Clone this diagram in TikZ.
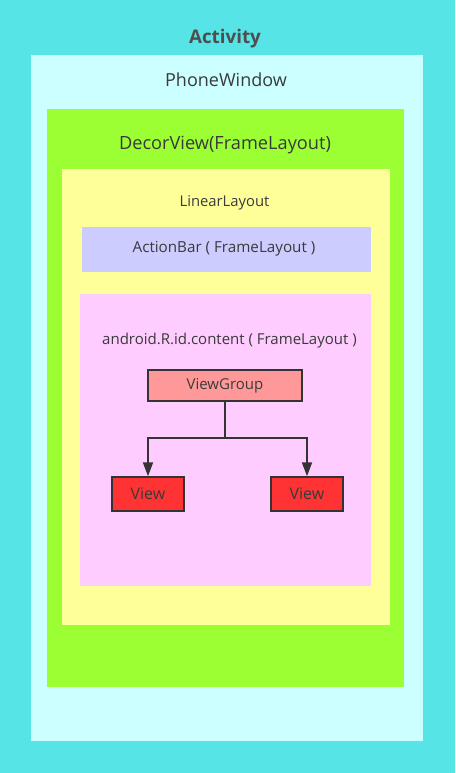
\documentclass[tikz,border=0pt]{standalone}
\usepackage{fontspec}
\setmainfont{Open Sans}
\usetikzlibrary{arrows.meta}
\definecolor{bgcyan}{HTML}{56E4E7}
\definecolor{phonec}{HTML}{CCFFFF}
\definecolor{decorc}{HTML}{9CFF33}
\definecolor{linc}{HTML}{FFFF99}
\definecolor{actc}{HTML}{CCCCFF}
\definecolor{contc}{HTML}{FFCCFF}
\definecolor{vgc}{HTML}{FF9999}
\definecolor{viewc}{HTML}{FF3333}
\definecolor{txtc}{HTML}{3A3A3A}
\definecolor{linec}{HTML}{333333}
\tikzset{
  lbl/.style={text=txtc, inner sep=0pt},
  bx/.style={draw=linec, line width=1.5pt, inner sep=0pt, text=txtc},
  conn/.style={draw=linec, line width=2pt, -{Triangle[width=10pt,length=14pt]}}
}
\begin{document}
\begin{tikzpicture}[x=1pt,y=-1pt]
\useasboundingbox (0,0) rectangle (455,773);
\fill[bgcyan] (0,0) rectangle (455,773);
\fill[phonec] (31,55) rectangle (423,741);
\fill[decorc] (47,109) rectangle (404,687);
\fill[linc] (62,169) rectangle (390,625);
\fill[actc] (82,227) rectangle (371,272);
\fill[contc] (80,294) rectangle (371,586);
\node[lbl, font=\fontsize{18.8}{21}\selectfont\bfseries, text=txtc!90!white] (act) at (225,39) {Activity};
\node[lbl, font=\fontsize{18}{21}\selectfont] (pw) at (226,80) {PhoneWindow};
\node[lbl, font=\fontsize{18.2}{21}\selectfont] (dv) at (225,145) {DecorView(FrameLayout)};
\node[lbl, font=\fontsize{14.8}{17}\selectfont] (ll) at (224.5,203) {LinearLayout};
\node[lbl, font=\fontsize{15.2}{17}\selectfont] (ab) at (224,248.5) {ActionBar ( FrameLayout )};
\node[lbl, font=\fontsize{15}{17}\selectfont] (ct) at (229.5,340.5) {android.R.id.content ( FrameLayout )};
\node[bx, fill=vgc, minimum width=154pt, minimum height=31pt, font=\fontsize{15}{17}\selectfont] (vg) at (225,385.5) {\raisebox{-1.5pt}{ViewGroup}};
\node[bx, fill=viewc, minimum width=72pt, minimum height=34pt, font=\fontsize{16}{18}\selectfont] (v1) at (148,494) {\raisebox{-1pt}{View}};
\node[bx, fill=viewc, minimum width=72pt, minimum height=34pt, font=\fontsize{16}{18}\selectfont] (v2) at (307,494) {\raisebox{-1pt}{View}};
\coordinate (j) at (225,438);
\draw[conn] (vg.south) -- (j) -| (v1.north);
\draw[conn] (j) -| (v2.north);
\end{tikzpicture}
\end{document}
